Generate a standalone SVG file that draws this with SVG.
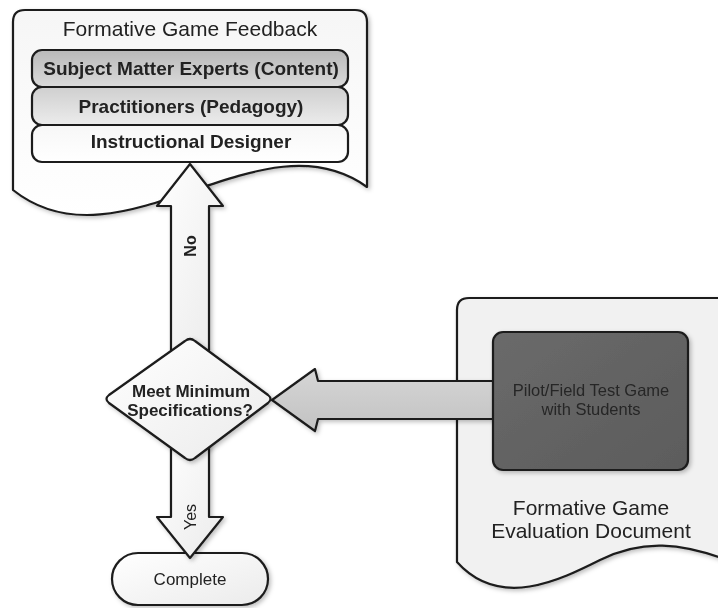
<svg xmlns="http://www.w3.org/2000/svg" width="718" height="608" viewBox="0 0 718 608">
  <defs>
    <linearGradient id="gDoc" x1="0" y1="0" x2="0" y2="1">
      <stop offset="0" stop-color="#f6f6f6"/>
      <stop offset="1" stop-color="#ffffff"/>
    </linearGradient>
    <linearGradient id="gRow1" x1="0" y1="0" x2="0" y2="1">
      <stop offset="0" stop-color="#b9b9b9"/>
      <stop offset="1" stop-color="#dadada"/>
    </linearGradient>
    <linearGradient id="gRow2" x1="0" y1="0" x2="0" y2="1">
      <stop offset="0" stop-color="#cfcfcf"/>
      <stop offset="1" stop-color="#ececec"/>
    </linearGradient>
    <linearGradient id="gRow3" x1="0" y1="0" x2="0" y2="1">
      <stop offset="0" stop-color="#f7f7f7"/>
      <stop offset="1" stop-color="#ffffff"/>
    </linearGradient>
    <linearGradient id="gLight" x1="0" y1="0" x2="1" y2="1">
      <stop offset="0" stop-color="#ffffff"/>
      <stop offset="1" stop-color="#ebebeb"/>
    </linearGradient>
    <linearGradient id="gGrey" x1="0" y1="0" x2="0" y2="1">
      <stop offset="0" stop-color="#d6d6d6"/>
      <stop offset="1" stop-color="#c2c2c2"/>
    </linearGradient>
    <linearGradient id="gDark" x1="0" y1="0" x2="1" y2="1">
      <stop offset="0" stop-color="#6a6a6a"/>
      <stop offset="1" stop-color="#5c5c5c"/>
    </linearGradient>
    <filter id="shadow" x="-10%" y="-10%" width="130%" height="130%">
      <feDropShadow dx="2" dy="2" stdDeviation="2" flood-color="#000" flood-opacity="0.25"/>
    </filter>
  </defs>
  <style>
    .ln { stroke: #1c1c1c; stroke-width: 2.2; stroke-linejoin: round; }
    .t { font-family: "Liberation Sans", Arial, sans-serif; fill: #222; text-anchor: middle; }
    .b { font-weight: bold; }
    .dk { fill: #262626; }
  </style>

  <rect width="718" height="608" fill="#ffffff"/>

  <!-- Feedback document with its three review rows -->
  <g id="feedback-doc" filter="url(#shadow)">
    <path class="ln" fill="url(#gDoc)" d="M13,22 Q13,10 25,10 L355,10 Q367,10 367,22 L367,187 C260,110 120,275 13,190 Z"/>
    <text class="t" x="190" y="36" font-size="21">Formative Game Feedback</text>
    <g id="row-sme">
      <rect class="ln" fill="url(#gRow1)" x="32" y="50" width="316" height="37" rx="10"/>
      <text class="t b" x="191" y="75" font-size="19">Subject Matter Experts (Content)</text>
    </g>
    <g id="row-practitioners">
      <rect class="ln" fill="url(#gRow2)" x="32" y="87" width="316" height="38" rx="10"/>
      <text class="t b" x="191" y="113" font-size="19">Practitioners (Pedagogy)</text>
    </g>
    <g id="row-designer">
      <rect class="ln" fill="url(#gRow3)" x="32" y="125" width="316" height="37" rx="10"/>
      <text class="t b" x="191" y="148" font-size="19">Instructional Designer</text>
    </g>
  </g>

  <!-- Evaluation document (runs off the right edge) -->
  <g id="evaluation-doc" filter="url(#shadow)">
    <path class="ln" fill="#f1f1f1" d="M457,310 Q457,298 469,298 L740,298 L740,565 C680,540 640,540 600,560 C560,580 500,610 457,562 Z"/>
    <text class="t" x="591" y="515" font-size="21">Formative Game</text>
    <text class="t" x="591" y="538" font-size="21">Evaluation Document</text>
  </g>

  <!-- Terminal -->
  <g id="complete" filter="url(#shadow)">
    <rect class="ln" fill="url(#gLight)" x="112" y="553" width="156" height="52" rx="26"/>
    <text class="t" x="190" y="585" font-size="17">Complete</text>
  </g>

  <!-- Block arrows between the steps -->
  <g id="connectors" filter="url(#shadow)">
    <g id="arrow-no">
      <path class="ln" fill="url(#gLight)" d="M171,350 L171,206 L157,206 L190,164 L223,206 L209,206 L209,350 Z"/>
      <text class="t b" font-size="16" transform="translate(196,246) rotate(-90)">No</text>
    </g>
    <g id="arrow-yes">
      <path class="ln" fill="url(#gLight)" d="M171,440 L171,517 L157,517 L190,558 L223,517 L209,517 L209,440 Z"/>
      <text class="t" font-size="16" transform="translate(196,517) rotate(-90)">Yes</text>
    </g>
    <g id="arrow-result">
      <path class="ln" fill="url(#gGrey)" d="M500,381 L318,381 L315,369 L272,400 L315,431 L318,419 L500,419 Z"/>
    </g>
  </g>

  <!-- Decision -->
  <g id="decision" filter="url(#shadow)">
    <path class="ln" fill="url(#gLight)" d="M185,341 Q190,337 195,341 L268,395 Q273,399 268,403 L195,458 Q190,462 185,458 L109,403 Q104,399 109,395 Z"/>
    <text class="t b" x="191" y="397" font-size="17">Meet Minimum</text>
    <text class="t b" x="190" y="416" font-size="17">Specifications?</text>
  </g>

  <!-- Test step -->
  <g id="pilot-test" filter="url(#shadow)">
    <rect class="ln" fill="url(#gDark)" x="493" y="332" width="195" height="138" rx="10"/>
    <text class="t dk" x="591" y="396" font-size="16.5">Pilot/Field Test Game</text>
    <text class="t dk" x="591" y="415" font-size="16.5">with Students</text>
  </g>
</svg>
